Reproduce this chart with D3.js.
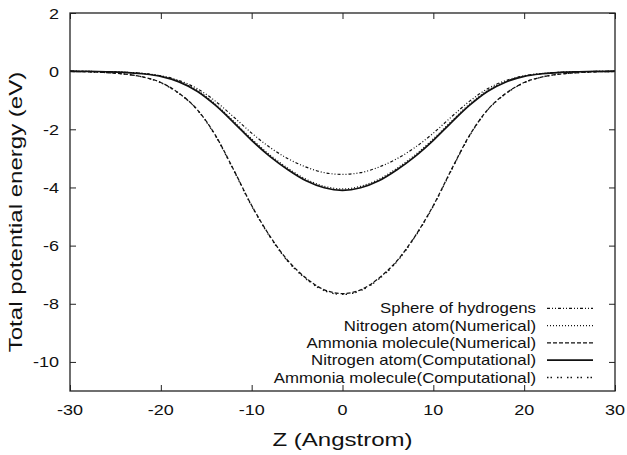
<!DOCTYPE html>
<html>
<head>
<meta charset="utf-8">
<script src="https://cdn.jsdelivr.net/npm/d3@7"></script>
<style>
  body { margin: 0; background: #fff; }
  svg { display: block; }
  text { font-family: "Liberation Sans", Arial, Helvetica, sans-serif; fill: #111; }
</style>
</head>
<body>
<svg id="chart" width="627" height="455"></svg>
<script>
// ---- data ----
const zValues = [-30,-28,-26,-24,-22,-20,-18,-16,-14,-12,-10,-8,-6,-4,-2,0,2,4,6,8,10,12,14,16,18,20,22,24,26,28,30];

const sphereHydrogens = [0,-0.01,-0.02,-0.04,-0.08,-0.16,-0.32,-0.60,-1.03,-1.57,-2.13,-2.62,-3.01,-3.30,-3.49,-3.55,
  -3.49,-3.30,-3.01,-2.62,-2.13,-1.57,-1.03,-0.60,-0.32,-0.16,-0.08,-0.04,-0.02,-0.01,0];
const nitrogenNumerical = [0,-0.01,-0.02,-0.04,-0.08,-0.17,-0.35,-0.66,-1.13,-1.72,-2.33,-2.88,-3.34,-3.72,-3.96,-4.05,
  -3.96,-3.72,-3.34,-2.88,-2.33,-1.72,-1.13,-0.66,-0.35,-0.17,-0.08,-0.04,-0.02,-0.01,0];
const ammoniaNumerical = [-0.01,-0.02,-0.05,-0.10,-0.20,-0.39,-0.76,-1.32,-2.20,-3.38,-4.62,-5.67,-6.52,-7.12,-7.52,-7.65,
  -7.52,-7.12,-6.52,-5.67,-4.62,-3.38,-2.20,-1.32,-0.76,-0.39,-0.20,-0.10,-0.05,-0.02,-0.01];
const nitrogenComputational = [0,-0.01,-0.02,-0.04,-0.09,-0.18,-0.37,-0.69,-1.17,-1.76,-2.38,-2.93,-3.39,-3.77,-4.01,-4.10,
  -4.01,-3.77,-3.39,-2.93,-2.38,-1.76,-1.17,-0.69,-0.37,-0.18,-0.09,-0.04,-0.02,-0.01,0];
const ammoniaComputational = [-0.01,-0.02,-0.05,-0.10,-0.20,-0.40,-0.77,-1.33,-2.22,-3.40,-4.64,-5.69,-6.55,-7.15,-7.55,-7.68,
  -7.55,-7.15,-6.55,-5.69,-4.64,-3.40,-2.22,-1.33,-0.77,-0.40,-0.20,-0.10,-0.05,-0.02,-0.01];

const seriesNames = ["Sphere of hydrogens", "Nitrogen atom(Numerical)", "Ammonia molecule(Numerical)",
  "Nitrogen atom(Computational)", "Ammonia molecule(Computational)"];
const xTicks = [-30,-20,-10,0,10,20,30];
const yTicks = [2,0,-2,-4,-6,-8,-10];
const xLabel = "Z (Angstrom)";
const yLabel = "Total potential energy (eV)";

// ---- layout ----
const svg = d3.select("#chart");
const L = 70, R = 615, T = 13, B = 391;
const x = d3.scaleLinear().domain([-30, 30]).range([L, R]);
const y = d3.scaleLinear().domain([-11, 2]).range([B, T]);
const SX = 1.2;   // horizontal stretch of the reference's text
const SXL = 1.3;  // stretch of axis titles

const seriesData = [sphereHydrogens, nitrogenNumerical, ammoniaNumerical, nitrogenComputational, ammoniaComputational];
const styles = [
  {dash: "3,2,1,2,1,2", w: 1.2},
  {dash: "1,2", w: 1.3},
  {dash: "4,2", w: 1.3},
  {dash: null, w: 1.7},
  {dash: "1.5,2,1.5,5", w: 1.3}
];

function stretchedText(g, tx, ty, str, size, anchor, sx) {
  return g.append("text")
    .attr("transform", `translate(${tx},${ty}) scale(${sx},1)`)
    .attr("text-anchor", anchor)
    .attr("font-size", size)
    .text(str);
}

// axes (ticks inward, mirrored)
const axG = svg.append("g");
const axB = d3.axisBottom(x).tickValues(xTicks).tickSize(-6).tickFormat("");
const axT = d3.axisTop(x).tickValues(xTicks).tickSize(-6).tickFormat("");
const axL = d3.axisLeft(y).tickValues(yTicks).tickSize(-6).tickFormat("");
const axR = d3.axisRight(y).tickValues(yTicks).tickSize(-6).tickFormat("");
axG.append("g").attr("transform", `translate(0,${B})`).call(axB);
axG.append("g").attr("transform", `translate(0,${T})`).call(axT);
axG.append("g").attr("transform", `translate(${L},0)`).call(axL);
axG.append("g").attr("transform", `translate(${R},0)`).call(axR);
axG.selectAll(".domain").remove();
axG.selectAll(".tick line").attr("stroke", "#222").attr("stroke-width", 1);

// tick labels
xTicks.forEach(v => stretchedText(svg, x(v), B + 24, String(v), 15, "middle", SX));
yTicks.forEach(v => stretchedText(svg, 59, y(v) + 5.5, String(v), 15, "end", SX));

// curves
const line = d3.line().x((d, i) => x(zValues[i])).y(d => y(d)).curve(d3.curveMonotoneX);
seriesData.forEach((s, i) => {
  svg.append("path").datum(s)
    .attr("d", line)
    .attr("fill", "none")
    .attr("stroke", "#111")
    .attr("stroke-width", styles[i].w)
    .attr("stroke-dasharray", styles[i].dash);
});

// frame
svg.append("rect").attr("x", L).attr("y", T).attr("width", R - L).attr("height", B - T)
  .attr("fill", "none").attr("stroke", "#222").attr("stroke-width", 1.3);

// legend
const legY0 = 308.3, legDy = 17.3;
seriesNames.forEach((n, i) => {
  const yy = legY0 + i * legDy;
  stretchedText(svg, 536, yy + 5, n, 14, "end", SX);
  svg.append("line").attr("x1", 547).attr("x2", 593).attr("y1", yy).attr("y2", yy)
    .attr("stroke", "#111").attr("stroke-width", styles[i].w)
    .attr("stroke-dasharray", styles[i].dash);
});

// axis labels
stretchedText(svg, (L + R) / 2, 446, xLabel, 18.5, "middle", SXL);
svg.append("text")
  .attr("transform", `translate(22,212) rotate(-90) scale(${SXL},1)`)
  .attr("text-anchor", "middle").attr("font-size", 18.5).text(yLabel);
</script>
</body>
</html>
